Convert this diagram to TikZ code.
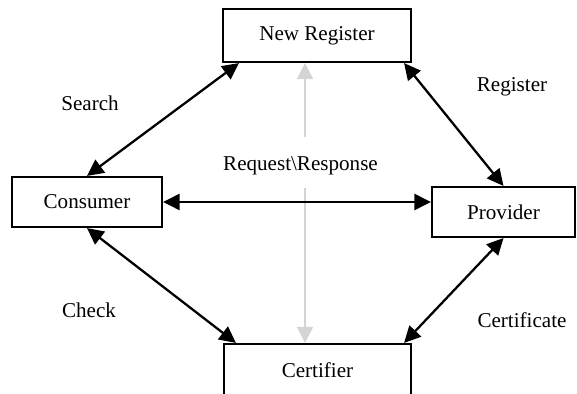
\documentclass[tikz,border=0pt]{standalone}
\usepackage{fontspec}
\setmainfont{Liberation Serif}
\usetikzlibrary{arrows.meta,positioning,calc}
\definecolor{boxline}{RGB}{0,0,0}
\definecolor{reqgray}{RGB}{212,212,212}
\tikzset{
  ent/.style={draw=boxline, line width=1.2pt, fill=white, font=\fontsize{12}{14}\selectfont,
              minimum height=1.0cm},
  biarr/.style={{Triangle[length=3.3mm,width=3.2mm]}-{Triangle[length=3.3mm,width=3.2mm]},
                line width=1.3pt, boxline},
  rrarr/.style={-{Triangle[length=3.2mm,width=3.2mm]}, line width=1pt, reqgray},
  lbl/.style={font=\fontsize{12}{14}\selectfont, inner sep=1pt},
}

\begin{document}
\begin{tikzpicture}
    \useasboundingbox (0,0) rectangle (11.54,7.88);
    % parties
    \node[ent, minimum width=3.76cm, minimum height=1.06cm] (newreg) at (6.34,7.17) {New Register};
    \node[ent, minimum width=3.0cm] (consumer) at (1.74,3.84) {Consumer};
    \node[ent, minimum width=2.86cm] (provider) at (10.07,3.64) {Provider};
    \node[ent, minimum width=3.74cm, minimum height=1.04cm] (certifier) at (6.35,0.48) {Certifier};
    % request/response through the middle
    \node[lbl] (rr) at (6.01,4.57) {Request\textbackslash Response};
    \coordinate (rrtop) at (6.1,5.14);
    \coordinate (rrbot) at (6.1,4.12);
    \draw[rrarr] (rrtop) -- (rrtop |- newreg.south);
    \draw[rrarr] (rrbot) -- (rrbot |- certifier.north);
    % links between parties
    \draw[biarr] (consumer.north) -- ([xshift=0.34cm]newreg.south west);
    \draw[biarr] ([xshift=-0.16cm]newreg.south east) -- (provider.north);
    \draw[biarr] (consumer.east) -- (consumer.east -| provider.west);
    \draw[biarr] (consumer.south) -- ([xshift=0.26cm]certifier.north west);
    \draw[biarr] (provider.south) -- ([xshift=-0.16cm]certifier.north east);
    % link labels
    \node[lbl] (search) at (1.8,5.82) {Search};
    \node[lbl] (register) at (10.24,6.14) {Register};
    \node[lbl] (check) at (1.78,1.68) {Check};
    \node[lbl] (certificate) at (10.44,1.48) {Certificate};
\end{tikzpicture}
\end{document}
